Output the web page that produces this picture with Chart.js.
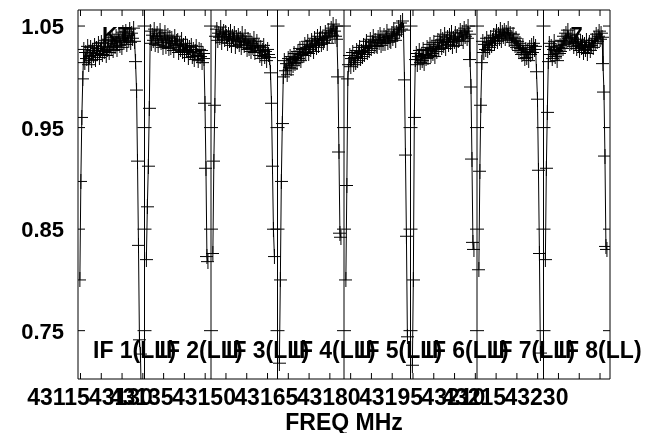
<!DOCTYPE html>
<html>
<head>
<meta charset="utf-8">
<script src="https://cdn.jsdelivr.net/npm/chart.js@4.4.1/dist/chart.umd.min.js"></script>
<style>
  html, body { margin: 0; padding: 0; background: #ffffff; }
  #c { display: block; }
</style>
</head>
<body>
<canvas id="c" width="647" height="433"></canvas>
<script>
// ---- data ----
const IF_START_MHZ = [43114.4, 43130.4, 43146.4, 43162.4, 43178.4, 43194.4, 43210.4, 43226.4];
const IF_WIDTH_MHZ = 16;
const FIRST_CHAN_MHZ = 0.45;     // centre of channel 1 above the IF start
const CHAN_WIDTH_MHZ = 0.235;
const IF_LABELS = ['IF 1(LL)', 'IF 2(LL)', 'IF 3(LL)', 'IF 4(LL)', 'IF 5(LL)', 'IF 6(LL)', 'IF 7(LL)', 'IF 8(LL)'];
const XTICKS_MHZ = [43115, 43120, 43125, 43130, 43135, 43140, 43145, 43150, 43155, 43160, 43165, 43170, 43175,
  43180, 43185, 43190, 43195, 43200, 43205, 43210, 43215, 43220, 43225, 43230, 43235, 43240];
const XLABELS_MHZ = [43115, 43130, 43135, 43150, 43165, 43180, 43195, 43210, 43215, 43230];
const YTICKS = [0.75, 0.85, 0.95, 1.05];
const Y_MIN = 0.7024, Y_MAX = 1.0658;

const IF1 = [0.800, 0.897, 0.960, 0.998,
  1.027, 1.014, 1.024, 1.018, 1.030, 1.012,
  1.020, 1.029, 1.016, 1.026, 1.021, 1.031,
  1.017, 1.028, 1.023, 1.033, 1.019, 1.026,
  1.034, 1.022, 1.030, 1.025, 1.036, 1.021,
  1.027, 1.037, 1.024, 1.033, 1.029, 1.039,
  1.026, 1.035, 1.030, 1.040, 1.027, 1.036,
  1.042, 1.031, 1.038, 1.029, 1.044, 1.034,
  1.039, 1.045, 1.032, 1.041, 1.036, 1.047,
  1.034, 1.043, 1.038, 1.048, 1.035,
  1.015, 0.987, 0.917, 0.834, 0.741, 0.727, 0.680];
const IF2 = [0.820, 0.872, 0.912, 0.969,
  1.045, 1.033, 1.041, 1.036, 1.047, 1.032, 1.040,
  1.043, 1.031, 1.038, 1.046, 1.034, 1.040, 1.029,
  1.037, 1.044, 1.030, 1.036, 1.041, 1.028, 1.039,
  1.029, 1.038, 1.033, 1.026, 1.040, 1.031, 1.035,
  1.036, 1.024, 1.032, 1.027, 1.037, 1.025, 1.031,
  1.022, 1.033, 1.026, 1.030, 1.019, 1.029, 1.024,
  1.031, 1.020, 1.027, 1.017, 1.025, 1.030, 1.021,
  1.016, 1.027, 1.020, 1.026, 1.014, 1.023, 1.018,
  0.974, 0.910, 0.823, 0.818];
const IF3 = [0.826, 0.917, 0.972, 1.040,
  1.047, 1.036, 1.043, 1.039, 1.049, 1.034, 1.042, 1.045, 1.037, 1.044, 1.040,
  1.033, 1.042, 1.036, 1.045, 1.031, 1.040, 1.037, 1.043, 1.030, 1.039, 1.035,
  1.041, 1.032, 1.038, 1.029, 1.043, 1.035, 1.031, 1.040, 1.034, 1.027, 1.037,
  1.028, 1.036, 1.025, 1.033, 1.029, 1.038, 1.024, 1.031, 1.035, 1.026, 1.030,
  1.021, 1.029, 1.018, 1.026, 1.031, 1.020, 1.025, 1.016, 1.027, 1.022, 1.019,
  1.004, 0.974, 0.912, 0.850, 0.823];
const IF4 = [0.718, 0.800, 0.897, 0.954,
  1.000, 1.016, 1.006, 1.013, 1.002, 1.018, 1.009,
  1.020, 1.008, 1.017, 1.011, 1.023, 1.013, 1.019,
  1.014, 1.025, 1.018, 1.028, 1.016, 1.022, 1.027,
  1.021, 1.032, 1.024, 1.029, 1.035, 1.023, 1.030,
  1.027, 1.036, 1.031, 1.025, 1.038, 1.033, 1.029,
  1.040, 1.031, 1.037, 1.043, 1.032, 1.038, 1.034,
  1.036, 1.044, 1.039, 1.033, 1.046, 1.040, 1.043,
  1.048, 1.041, 1.052, 1.045, 1.040, 1.050, 1.037,
  1.000, 0.926, 0.846, 0.842];
const IF5 = [0.800, 0.893, 0.998, 1.012,
  1.021, 1.010, 1.018, 1.024, 1.012, 1.019, 1.014,
  1.026, 1.016, 1.023, 1.029, 1.018, 1.025, 1.020,
  1.031, 1.022, 1.029, 1.035, 1.024, 1.030, 1.026,
  1.037, 1.028, 1.034, 1.040, 1.030, 1.036, 1.031,
  1.030, 1.039, 1.034, 1.042, 1.031, 1.037, 1.033,
  1.041, 1.033, 1.039, 1.045, 1.034, 1.040, 1.036,
  1.035, 1.043, 1.038, 1.047, 1.041, 1.036, 1.044,
  1.042, 1.049, 1.045, 1.053, 1.047, 1.055, 1.046,
  0.997, 0.923, 0.843, 0.744];
const IF6 = [0.716, 0.800, 0.960, 1.017,
  1.023, 1.012, 1.020, 1.026, 1.014, 1.021, 1.016, 1.027, 1.013, 1.022, 1.018,
  1.029, 1.019, 1.026, 1.032, 1.021, 1.028, 1.023, 1.034, 1.020, 1.030, 1.025,
  1.036, 1.027, 1.034, 1.040, 1.029, 1.037, 1.031, 1.042, 1.028, 1.035, 1.039,
  1.032, 1.041, 1.034, 1.044, 1.030, 1.038, 1.035, 1.043, 1.031, 1.040, 1.036,
  1.037, 1.046, 1.039, 1.044, 1.035, 1.048, 1.040, 1.045, 1.038, 1.050, 1.042,
  1.017, 0.990, 0.919, 0.837, 0.830];
const IF7 = [0.810, 0.907, 0.972, 1.014,
  1.035, 1.024, 1.032, 1.027, 1.038, 1.026, 1.034, 1.029, 1.039, 1.031, 1.036,
  1.041, 1.033, 1.039, 1.045, 1.035, 1.042, 1.038, 1.047, 1.036, 1.044, 1.040,
  1.046, 1.038, 1.044, 1.041, 1.048, 1.037, 1.043, 1.039, 1.034, 1.042, 1.036,
  1.031, 1.038, 1.029, 1.035, 1.026, 1.033, 1.028, 1.022, 1.031, 1.024, 1.018,
  1.027, 1.019, 1.025, 1.016, 1.029, 1.022, 1.031, 1.024, 1.033, 1.027, 1.030,
  1.005, 0.978, 0.908, 0.826, 0.728];
const IF8 = [0.820, 0.910, 0.965, 1.015,
  1.033, 1.022, 1.030, 1.018, 1.027, 1.035, 1.020, 1.026, 1.016, 1.029, 1.023,
  1.031, 1.025, 1.036, 1.028, 1.040, 1.032, 1.043, 1.035, 1.046, 1.038, 1.033,
  1.041, 1.034, 1.039, 1.030, 1.042, 1.033, 1.028, 1.037, 1.031, 1.026, 1.035,
  1.029, 1.034, 1.024, 1.032, 1.027, 1.036, 1.023, 1.030, 1.034, 1.026, 1.031,
  1.036, 1.029, 1.038, 1.033, 1.042, 1.035, 1.040, 1.045, 1.037, 1.043, 1.039,
  1.013, 0.985, 0.922, 0.833, 0.830];
const IF_VALUES = [IF1, IF2, IF3, IF4, IF5, IF6, IF7, IF8];
const CORNER_TEXT = [{ text: 'KT', ifIndex: 0, dx: 24 }, { text: '7', ifIndex: 7, dx: 27 }];

// ---- chart ----
const FONT = '"Liberation Sans", Arial, Helvetica, sans-serif';

// "+" marker like the plotted error crosses
const crossMark = (() => {
  const c = document.createElement('canvas');
  c.width = 13; c.height = 15;
  const g = c.getContext('2d');
  g.fillStyle = '#000';
  g.fillRect(6, 0, 1, 15);
  g.fillRect(0, 7, 13, 1);
  return c;
})();

const datasets = IF_VALUES.map((vals, k) => ({
  label: IF_LABELS[k],
  data: vals.map((v, i) => ({ x: IF_START_MHZ[k] + FIRST_CHAN_MHZ + i * CHAN_WIDTH_MHZ, y: v })),
  borderColor: '#000',
  backgroundColor: '#000',
  borderWidth: 1,
  pointStyle: crossMark,
  pointRadius: 7,
  tension: 0,
  fill: false
}));

const overlay = {
  id: 'overlay',
  afterDatasetsDraw(chart) {
    const { ctx, chartArea: a, scales: { x, y } } = chart;
    ctx.save();
    ctx.strokeStyle = '#000';
    ctx.lineWidth = 1;
    ctx.beginPath();
    ctx.rect(a.left, a.top, a.right - a.left, a.bottom - a.top);
    const divs = IF_START_MHZ.slice(1).map(f => x.getPixelForValue(f));
    divs.forEach(px => { ctx.moveTo(px, a.top); ctx.lineTo(px, a.bottom); });
    XTICKS_MHZ.forEach(f => {
      const px = x.getPixelForValue(f);
      ctx.moveTo(px, a.bottom); ctx.lineTo(px, a.bottom - 6);
      ctx.moveTo(px, a.top); ctx.lineTo(px, a.top + 6);
    });
    YTICKS.forEach(v => {
      const py = y.getPixelForValue(v);
      ctx.moveTo(a.left, py); ctx.lineTo(a.left + 7, py);
      ctx.moveTo(a.right, py); ctx.lineTo(a.right - 7, py);
      divs.forEach(px => { ctx.moveTo(px - 7, py); ctx.lineTo(px + 7, py); });
    });
    ctx.stroke();

    ctx.fillStyle = '#000';
    ctx.textAlign = 'left';
    ctx.textBaseline = 'alphabetic';
    ctx.font = 'bold 23px ' + FONT;
    IF_LABELS.forEach((t, k) => {
      const px = x.getPixelForValue(IF_START_MHZ[k]);
      ctx.fillText(t, px + 15, 358);
    });
    ctx.font = 'bold 22px ' + FONT;
    CORNER_TEXT.forEach(c => {
      const px = x.getPixelForValue(IF_START_MHZ[c.ifIndex]);
      ctx.fillText(c.text, px + c.dx, 42);
    });
    ctx.restore();
  }
};

new Chart(document.getElementById('c'), {
  type: 'line',
  data: { datasets },
  options: {
    responsive: false,
    animation: false,
    devicePixelRatio: 1,
    layout: { padding: { left: 0, right: 37, top: 10, bottom: 0 } },
    plugins: { legend: { display: false }, tooltip: { enabled: false }, title: { display: false } },
    scales: {
      x: {
        type: 'linear',
        min: IF_START_MHZ[0],
        max: IF_START_MHZ[IF_START_MHZ.length - 1] + IF_WIDTH_MHZ,
        grid: { display: false, drawTicks: false },
        border: { display: false },
        afterBuildTicks(scale) { scale.ticks = XLABELS_MHZ.map(v => ({ value: v })); },
        afterFit(scale) { scale.height = 54; scale.paddingLeft = 0; scale.paddingRight = 0; },
        ticks: {
          autoSkip: false, maxRotation: 0, minRotation: 0,
          padding: 6, labelOffset: -22,
          color: '#000',
          font: { family: FONT, size: 23, weight: 'bold' },
          callback: v => String(v)
        },
        title: {
          display: true, text: 'FREQ MHz', color: '#000',
          font: { family: FONT, size: 23, weight: 'bold', lineHeight: 1.0 },
          padding: { top: 0, bottom: -2 }
        }
      },
      y: {
        type: 'linear',
        min: Y_MIN, max: Y_MAX,
        grid: { display: false, drawTicks: false },
        border: { display: false },
        afterBuildTicks(scale) { scale.ticks = YTICKS.map(v => ({ value: v })); },
        afterFit(scale) { scale.width = 78; scale.paddingTop = 0; scale.paddingBottom = 0; },
        ticks: {
          padding: 14, labelOffset: 2, color: '#000',
          font: { family: FONT, size: 22, weight: 'bold' },
          callback: v => v.toFixed(2)
        }
      }
    }
  },
  plugins: [overlay]
});
</script>
</body>
</html>
